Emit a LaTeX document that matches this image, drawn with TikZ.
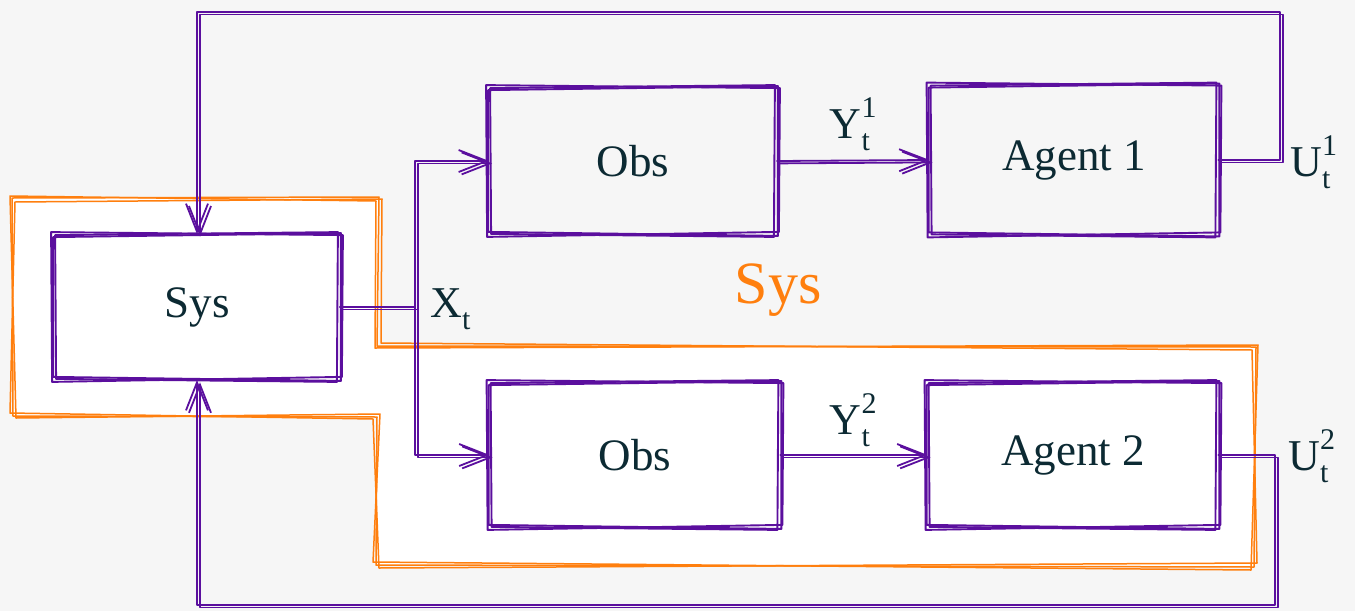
\documentclass[tikz,border=0pt]{standalone}
\usepackage{fontspec}
\setmainfont{Liberation Serif}
\usetikzlibrary{arrows.meta}

\definecolor{bg}{HTML}{F6F6F6}
\definecolor{purp}{HTML}{5B0F9E}
\definecolor{orng}{HTML}{FF7F0E}
\definecolor{ink}{HTML}{0C2A33}

% symbol with a superscript and a subscript stacked after it
\newcommand\lbl[3]{#1\rlap{\raisebox{10.5pt}{\fontsize{15}{15}\selectfont #2}}\raisebox{-6pt}{\fontsize{15}{15}\selectfont #3}}

% hand-drawn rectangle: three slightly displaced outlines round a node
\newcommand\roughbox[1]{%
  \foreach \a/\b/\c/\d/\e/\f/\g/\h in {-3/-2/3/1/2/-3/-2/2, 1/1/-2/-2/-3/2/2/-1, -1/3/1/-1/1/1/-1/-3}{
    \draw[sk] ([shift={(\a,\b)}]#1.north west) -- ([shift={(\c,\d)}]#1.north east)
      -- ([shift={(\e,\f)}]#1.south east) -- ([shift={(\g,\h)}]#1.south west) -- cycle;
  }%
}

% all connectors of the diagram
\newcommand\wiring{%
  \draw[wire] (sys.east) -- (xj);
  \draw[arrowwire] (xj) |- (obs1.west);
  \draw[arrowwire] (xj) |- (obs2.west);
  \draw[arrowwire] (obs1.east) -- (ag1.west);
  \draw[arrowwire] (obs2.east) -- (ag2.west);
  \draw[arrowwire] (ag1.east) -| (tr) -- (sys.north |- tr) -- (sys.north);
  \draw[arrowwire] (ag2.east) -| (br) -- (sys.south |- br) -- (sys.south);
}

\tikzset{
  sk/.style={draw=purp, line width=0.95pt, line join=round, line cap=round},
  skor/.style={draw=orng, line width=0.75pt, line join=round, line cap=round},
  wire/.style={draw=purp, line width=0.9pt, line cap=round, line join=round},
  arrowwire/.style={wire, -{Straight Barb[length=14pt,width=11pt,line width=0.9pt]}},
  box/.style={minimum width=143pt, minimum height=73pt, inner sep=0pt, text=ink,
              font=\fontsize{22.5}{27}\selectfont},
  tag/.style={text=ink, inner sep=0pt, font=\fontsize{22}{26}\selectfont},
}

\begin{document}
\begin{tikzpicture}[x=0.5pt,y=-0.5pt]
\fill[bg] (0,0) rectangle (1355,611);
\useasboundingbox (0,0) rectangle (1355,611);

% enclosing system region
\fill[white] (12,198) -- (378,198) -- (378,346) -- (1255,348) -- (1255,566)
  -- (376,565) -- (376,417) -- (12,416) -- cycle;
\draw[skor] (12,198) -- (379,197) -- (377,346) -- (1256,347) -- (1254,567)
  -- (376,565) -- (377,417) -- (13,416) -- cycle;
\draw[skor] (15,202) -- (382,199) -- (381,343) -- (1252,350) -- (1257,563)
  -- (379,568) -- (373,419) -- (10,413) -- cycle;
\draw[skor] (10,196) -- (376,201) -- (375,348) -- (1258,345) -- (1251,570)
  -- (373,562) -- (380,414) -- (16,418) -- cycle;

% blocks
\node[box, minimum width=142.5pt, minimum height=72.5pt] (sys) at (197,307) {Sys};
\node[box, minimum width=143.5pt, minimum height=73.5pt] (obs1) at (633,161) {Obs};
\node[box, minimum width=144pt, minimum height=75pt] (ag1) at (1074,160) {Agent 1};
\node[box, minimum width=145pt, minimum height=72.5pt] (obs2) at (635,455) {Obs};
\node[box, minimum width=145pt, minimum height=72.5pt] (ag2) at (1073,455) {Agent 2};
\roughbox{sys}
\roughbox{obs1}
\roughbox{ag1}
\roughbox{obs2}
\roughbox{ag2}

% routing points
\coordinate (xj) at (415,307);
\coordinate (tr) at (1280,12);
\coordinate (br) at (1275,605);

% connectors, drawn twice with a small offset for the sketched look
\wiring
\begin{scope}[transform canvas={xshift=1.5pt, yshift=-1.2pt}]
  \wiring
\end{scope}

% signal labels
\node[tag, anchor=west] (xt) at (430,309) {\lbl{X}{}{t}};
\node[tag] (y1) at (850,124) {\lbl{Y}{1}{t}};
\node[tag] (y2) at (850,420) {\lbl{Y}{2}{t}};
\node[tag, anchor=west] (u1) at (1290,162) {\lbl{U}{1}{t}};
\node[tag, anchor=west] (u2) at (1288,456) {\lbl{U}{2}{t}};
\node[text=orng, inner sep=0pt, font=\fontsize{30}{36}\selectfont] (sysl) at (778,290) {Sys};
\end{tikzpicture}
\end{document}
